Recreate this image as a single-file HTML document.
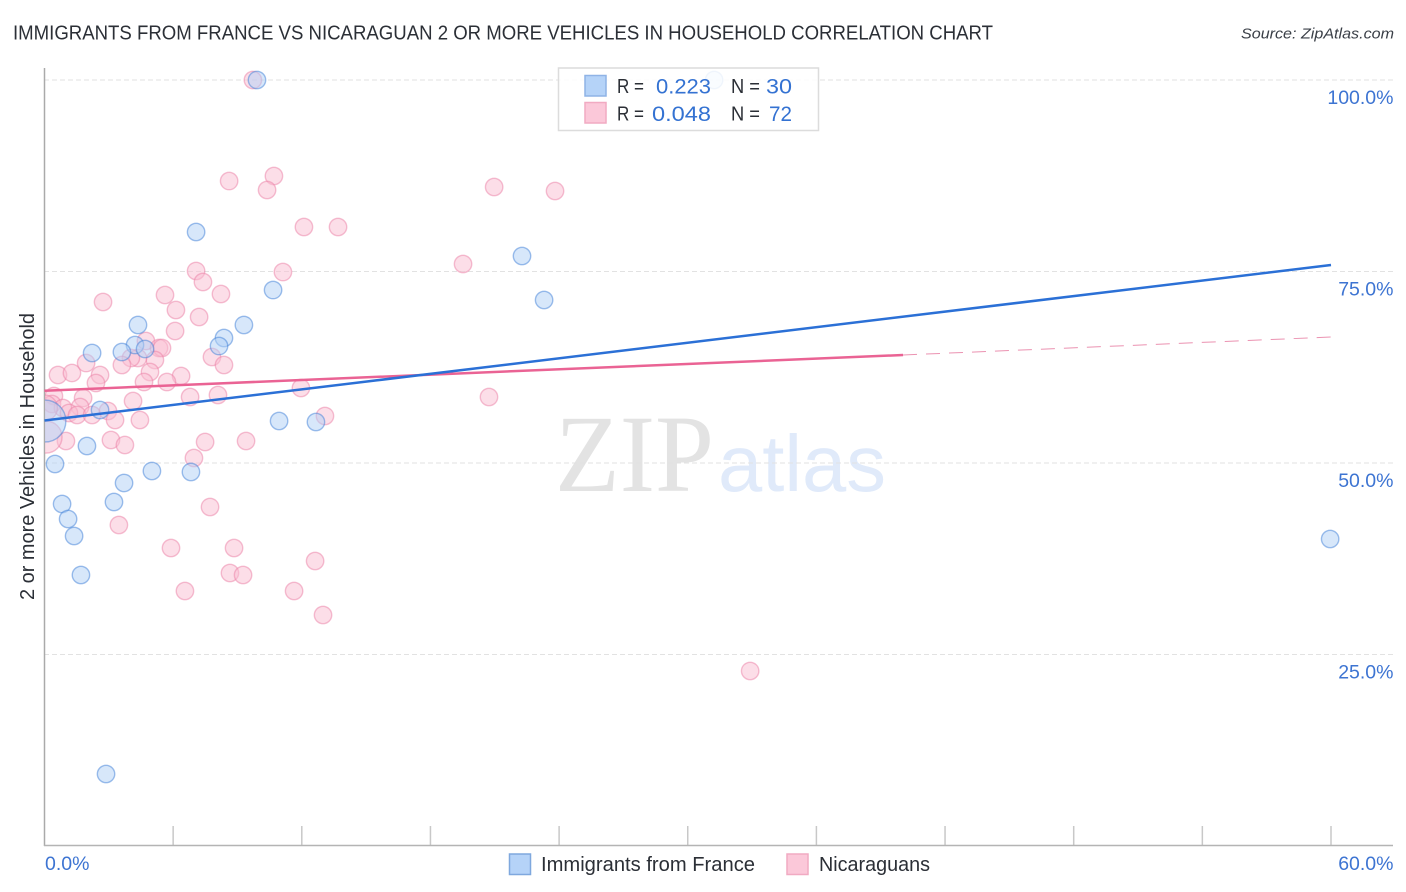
<!DOCTYPE html>
<html lang="en">
<head>
<meta charset="utf-8">
<title>Immigrants from France vs Nicaraguan 2 or more Vehicles in Household Correlation Chart</title>
<style>
html,body{margin:0;padding:0;background:#fff;width:1406px;height:892px;overflow:hidden}
svg{display:block;font-family:"Liberation Sans",sans-serif}
</style>
</head>
<body>
<svg id="chart" xmlns="http://www.w3.org/2000/svg" width="1406" height="892" viewBox="0 0 1406 892">
  <defs>
    <clipPath id="plot-clip"><rect x="45" y="60" width="1355" height="786"/></clipPath>
  </defs>
  <rect x="0" y="0" width="1406" height="892" fill="#fff"/>
  <text x="13" y="39.5" font-size="20" fill="#2b2f36" textLength="980" lengthAdjust="spacingAndGlyphs">IMMIGRANTS FROM FRANCE VS NICARAGUAN 2 OR MORE VEHICLES IN HOUSEHOLD CORRELATION CHART</text>
  <text x="1241" y="38.5" font-size="15" font-style="italic" fill="#3a3f47" textLength="153" lengthAdjust="spacingAndGlyphs">Source: ZipAtlas.com</text>
  <g>
    <text x="555" y="491" font-family="'Liberation Serif',serif" font-size="110" fill="#e3e3e3" textLength="159" lengthAdjust="spacingAndGlyphs">ZIP</text>
    <text x="718" y="491" font-size="80" fill="#e0eafa" textLength="168" lengthAdjust="spacingAndGlyphs">atlas</text>
  </g>
  <g id="grid"></g>
  <g id="ticks"></g>
  <line x1="44.5" y1="68" x2="44.5" y2="846" stroke="#aaaaaa" stroke-width="1.5"/>
  <line x1="44" y1="845.5" x2="1393" y2="845.5" stroke="#b4b4b4" stroke-width="1.5"/>
  <g id="ylabels"></g>
  <g id="xlabels"></g>
  <text transform="translate(34,600) rotate(-90)" font-size="20" fill="#2b2f36" textLength="287" lengthAdjust="spacingAndGlyphs">2 or more Vehicles in Household</text>
  <g id="points-pink" clip-path="url(#plot-clip)"></g>
  <g id="points-blue" clip-path="url(#plot-clip)"></g>
  <g id="trends"></g>

  <g>
    <rect x="558.5" y="68" width="260" height="62.5" fill="#fff" fill-opacity="0.85" stroke="#dcdcdc" stroke-width="1.5"/>
    <rect x="585" y="75.5" width="21" height="20.5" fill="#b5d3f8" stroke="#8fb3e6" stroke-width="1.5"/>
    <rect x="585" y="102.5" width="21" height="20.5" fill="#fbc8d9" stroke="#f1aac2" stroke-width="1.5"/>
    <g font-size="20" fill="#2b2f36">
      <text x="617" y="93" textLength="27" lengthAdjust="spacingAndGlyphs">R =</text>
      <text x="731" y="93" textLength="29" lengthAdjust="spacingAndGlyphs">N =</text>
      <text x="617" y="120.5" textLength="27" lengthAdjust="spacingAndGlyphs">R =</text>
      <text x="731" y="120.5" textLength="29" lengthAdjust="spacingAndGlyphs">N =</text>
    </g>
    <g font-size="21" fill="#3472d2">
      <text x="656" y="93.5" textLength="55" lengthAdjust="spacingAndGlyphs">0.223</text>
      <text x="766" y="93.5" textLength="26" lengthAdjust="spacingAndGlyphs">30</text>
      <text x="652" y="121" textLength="59" lengthAdjust="spacingAndGlyphs">0.048</text>
      <text x="769" y="121" textLength="23" lengthAdjust="spacingAndGlyphs">72</text>
    </g>
  </g>

  <g>
    <rect x="509.5" y="854" width="21" height="20.5" fill="#b5d3f8" stroke="#7fa8de" stroke-width="1.5"/>
    <text x="541" y="871" font-size="20" fill="#2b2f36" textLength="214" lengthAdjust="spacingAndGlyphs">Immigrants from France</text>
    <rect x="787" y="854" width="21" height="20.5" fill="#fbc8d9" stroke="#f1aac2" stroke-width="1.5"/>
    <text x="819" y="871" font-size="20" fill="#2b2f36" textLength="111" lengthAdjust="spacingAndGlyphs">Nicaraguans</text>
  </g>
</svg>
<script>
var yTickValues = [25, 50, 75, 100];
var yTickLabels = ["25.0%", "50.0%", "75.0%", "100.0%"];
var xTickValues = [6, 12, 18, 24, 30, 36, 42, 48, 54, 60];
var xEndValues = [0, 60];
var xEndLabels = ["0.0%", "60.0%"];

var franceX = [9.91,31.23,7.07,22.27,10.66,23.30,4.36,9.30,8.37,4.22,8.14,2.22,3.61,4.69,2.59,10.94,12.66,1.98,0.02,0.49,5.01,6.83,3.71,0.82,3.24,1.10,1.38,1.70,59.96,2.87];
var franceY = [100,100,80.16,77.02,72.58,71.28,68.02,68.02,66.32,65.40,65.27,64.36,64.49,64.88,56.92,55.48,55.35,52.22,55.48,49.87,48.96,48.83,47.39,44.65,44.91,42.69,40.47,35.38,40.08,9.40];
var franceWeight = [1,1,1,1,1,1,1,1,1,1,1,1,1,1,1,1,1,1,5.8,1,1,1,1,1,1,1,1,1,1,1];

var nicaraguansX = [9.72,8.61,10.70,10.38,12.10,13.69,20.97,23.81,19.52,7.07,11.12,7.39,8.23,5.62,2.73,6.13,7.21,6.09,4.73,5.34,5.48,7.81,8.37,5.15,4.36,4.03,3.61,4.92,6.37,5.71,4.64,6.79,8.09,4.13,11.96,20.73,0.63,1.28,1.94,2.59,2.40,0.44,1.80,0.35,0.86,1.66,1.14,1.52,2.22,2.96,3.29,4.45,3.10,3.75,1.00,7.49,9.40,6.97,13.08,7.72,3.47,5.90,8.84,12.62,8.65,9.26,6.55,11.64,12.99,32.91,0.07,0];
var nicaraguansY = [100,86.81,87.47,85.64,80.81,80.81,86.03,85.51,75.98,75.07,74.93,73.63,72.06,71.93,71.02,69.97,69.06,67.23,65.93,65.01,65.01,63.84,62.79,63.45,63.71,63.71,62.79,61.88,61.36,60.57,60.57,58.62,58.88,58.09,59.79,58.62,61.49,61.75,63.05,61.49,60.44,58.75,58.49,57.70,57.18,57.31,56.53,56.27,56.27,56.79,55.61,55.61,53.00,52.35,52.87,52.74,52.87,50.65,56.14,44.26,41.91,38.90,38.90,37.21,35.64,35.38,33.29,33.29,30.16,22.85,53.39,57.18];
var nicaraguansWeight = [1,1,1,1,1,1,1,1,1,1,1,1,1,1,1,1,1,1,1,1,1,1,1,1,1,1,1,1,1,1,1,1,1,1,1,1,1,1,1,1,1,1,1,1,1,1,1,1,1,1,1,1,1,1,1,1,1,1,1,1,1,1,1,1,1,1,1,1,1,1,3.4,2.2];

var franceTrendX = [0, 60];
var franceTrendY = [55.55, 75.85];
var nicaraguansSolidX = [0, 40.04];
var nicaraguansSolidY = [59.44, 64.10];
var nicaraguansDashX = [40.04, 60];
var nicaraguansDashY = [64.10, 66.45];

var SVGNS = "http://www.w3.org/2000/svg";
function xScale(v) { return 44.5 + v * (1331 - 44.5) / 60; }
function yScale(v) { return 846 - v * 7.66; }
function make(tag, parent, attrs) {
  var el = document.createElementNS(SVGNS, tag);
  for (var k in attrs) { el.setAttribute(k, attrs[k]); }
  parent.appendChild(el);
  return el;
}

var grid = document.getElementById("grid");
var ylabels = document.getElementById("ylabels");
yTickValues.forEach(function (v, i) {
  var g = make("line", grid, { x1: 44, x2: 1393, y1: yScale(v), y2: yScale(v), stroke: "#e2e2e2", "stroke-width": 1, "stroke-dasharray": "5 3" });
  
  
  var t = make("text", ylabels, { x: 1393.5, y: yScale(v) + 24, "text-anchor": "end", "font-size": 19.5, fill: "#3d74d2" });
  t.textContent = yTickLabels[i];
  
  
});

var ticks = document.getElementById("ticks");
xTickValues.forEach(function (v) {
  var l = make("line", ticks, { x1: xScale(v), x2: xScale(v), y1: 826, y2: 845, stroke: "#c8c8c8", "stroke-width": 1.5 });
  
  
});

var xlabels = document.getElementById("xlabels");
xEndValues.forEach(function (v, i) {
  var attrs = i === 0
    ? { x: xScale(v) + 0.5, y: 870, "text-anchor": "start", "font-size": 19.5, fill: "#3d74d2" }
    : { x: 1393.5, y: 870, "text-anchor": "end", "font-size": 19.5, fill: "#3d74d2" };
  var t = make("text", xlabels, attrs);
  t.textContent = xEndLabels[i];
  
  
});

function drawPoints(groupId, xs, ys, weights, fill, stroke, name) {
  var group = document.getElementById(groupId);
  xs.forEach(function (x, i) {
    var c = make("circle", group, {
      cx: xScale(x), cy: yScale(ys[i]), r: 8.7 * Math.sqrt(weights[i]),
      fill: fill, "fill-opacity": 0.5, stroke: stroke, "stroke-opacity": 0.5, "stroke-width": 1.4
    });
    
    
  });
}
drawPoints("points-pink", nicaraguansX, nicaraguansY, nicaraguansWeight, "#f9bdd1", "#ec7fa5", "nicaraguans-point");
drawPoints("points-blue", franceX, franceY, franceWeight, "#b0cff5", "#3f7fd8", "france-point");

function drawLine(xs, ys, attrs, name) {
  var trends = document.getElementById("trends");
  attrs.x1 = xScale(xs[0]);
  attrs.y1 = yScale(ys[0]);
  attrs.x2 = xScale(xs[1]);
  attrs.y2 = yScale(ys[1]);
  var l = make("line", trends, attrs);
  
  
}
drawLine(nicaraguansDashX, nicaraguansDashY, { stroke: "#e87fa3", "stroke-width": 1, "stroke-dasharray": "14 9", "stroke-opacity": 0.85 }, "nicaraguans-trend-projection");
drawLine(nicaraguansSolidX, nicaraguansSolidY, { stroke: "#ea6394", "stroke-width": 2.5 }, "nicaraguans-trend-line");
drawLine(franceTrendX, franceTrendY, { stroke: "#2b70d6", "stroke-width": 2.5 }, "france-trend-line");
</script>
</body>
</html>
